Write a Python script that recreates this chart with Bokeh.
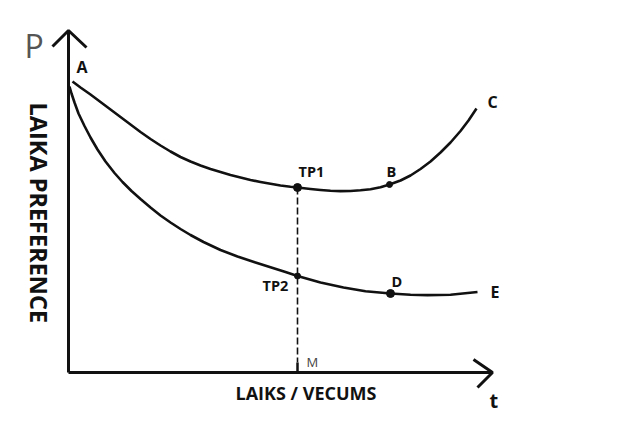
import math
from bokeh.plotting import figure
from bokeh.models import Range1d
from bokeh.core.properties import value
from bokeh.embed import file_html
from bokeh.resources import INLINE

# ---- data (t = time, P = preference) ----
upper_t = [2, 10, 20, 30, 40, 50, 60, 70, 80, 90, 100, 110, 120, 130, 140, 150, 160, 170,
           180, 190, 200, 210, 220, 227, 240, 250, 260, 270, 280, 290, 300, 310, 319,
           330, 340, 350, 360, 370, 380, 390, 398, 406]
upper_p = [291, 285, 278, 270.5, 263, 255.5, 248, 240.5, 233.5, 227, 221, 215.5, 211, 207, 203.5, 200.5, 197.5, 195,
           192.5, 190.5, 188.7, 187, 185.7, 185, 183.5, 182.5, 181.7, 181.4, 181.5, 182.2, 183.2, 185.2, 188,
           192, 197, 203.5, 211, 220, 230, 241.5, 252, 264]

lower_t = [-1, 1, 4, 8, 14, 20, 27, 35, 44, 52, 61, 70, 80, 90, 100, 110, 120, 133, 150, 167, 185,
           200, 215, 227, 250, 273, 295, 320, 340, 357, 380, 407]
lower_p = [286, 279, 270, 259, 246.5, 235, 223, 211, 199.5, 190.5, 181.5, 173.5, 165, 157, 150, 143.5, 137.5, 130.5,
           122.5, 116, 110, 105.2, 100.4, 96.5, 90, 85, 81.2, 79, 77.8, 77.4, 77.8, 80.5]

point_names = ["TP1", "B", "TP2", "D"]
point_t = [227, 319, 227, 320]
point_p = [185, 188, 96.5, 79]
point_size = [8, 6, 6, 8]

M_t = 227
axis_origin_t = -2
t_axis_end = 422
p_axis_end = 342

FONT = value("Open Sans")

p = figure(width=644, height=429, x_range=Range1d(-70, 574), y_range=Range1d(-57, 372),
           output_backend="svg", toolbar_location=None,
           x_axis_location=None, y_axis_location=None, min_border=0)
p.outline_line_color = None
p.xgrid.visible = False
p.ygrid.visible = False
p.background_fill_color = "white"
p.border_fill_color = "white"

ink = "#111111"

# axes
p.segment(x0=[axis_origin_t, axis_origin_t], y0=[0, 0], x1=[axis_origin_t, t_axis_end], y1=[p_axis_end, 0],
          line_color=ink, line_width=3)
# arrow heads
p.line(x=[-18, axis_origin_t, 16], y=[326, p_axis_end, 325], line_color=ink, line_width=3)
p.line(x=[403, t_axis_end, 407], y=[13, 0, -15], line_color=ink, line_width=3)

# dashed guide and M tick
p.segment(x0=[M_t], y0=[point_p[0]], x1=[M_t], y1=[10], line_color=ink, line_width=1.6, line_dash="7 3")
p.segment(x0=[M_t], y0=[10], x1=[M_t], y1=[0], line_color=ink, line_width=2.5)

# curves
p.line(upper_t, upper_p, line_color=ink, line_width=2.6, line_join="round")
p.line(lower_t, lower_p, line_color=ink, line_width=2.6, line_join="round")

# points
p.scatter(point_t, point_p, size=point_size, color=ink)

# bold labels
lab_text = ["A", "TP1", "B", "TP2", "D", "C", "E"]
lab_t = [6, 228, 316, 192, 321, 417, 420]
lab_p = [306, 201, 201, 87, 91, 271, 81]
lab_size = ["16px", "14.5px", "14.5px", "14.5px", "14.5px", "16px", "16px"]
p.text(x=lab_t, y=lab_p, text=lab_text, text_font=FONT, text_font_style="bold",
       text_font_size=lab_size, text_color=ink, text_align="left", text_baseline="alphabetic")

# M
p.text(x=[236], y=[11], text=["M"], text_font=FONT, text_font_size="13px",
       text_color="#444444", text_align="left", text_baseline="alphabetic")

# axis titles
p.text(x=[165], y=[-20], text=["LAIKS / VECUMS"], text_font=FONT, text_font_style="bold",
       text_font_size="18px", text_color=ink, text_align="left", text_baseline="alphabetic")
p.text(x=[419], y=[-28], text=["t"], text_font=FONT, text_font_style="bold",
       text_font_size="20px", text_color=ink, text_align="left", text_baseline="alphabetic")
p.text(x=[-46], y=[327], text=["P"], text_font=FONT, text_font_size="32px",
       text_color="#555555", text_align="left", text_baseline="alphabetic")
p.text(x=[-32], y=[270], text=["LAIKA PREFERENCE"], text_font=FONT, text_font_style="bold",
       text_font_size="23.5px", text_color=ink, text_align="left", text_baseline="alphabetic",
       angle=-math.pi / 2)

open("out.html", "w").write(file_html(p, INLINE))
